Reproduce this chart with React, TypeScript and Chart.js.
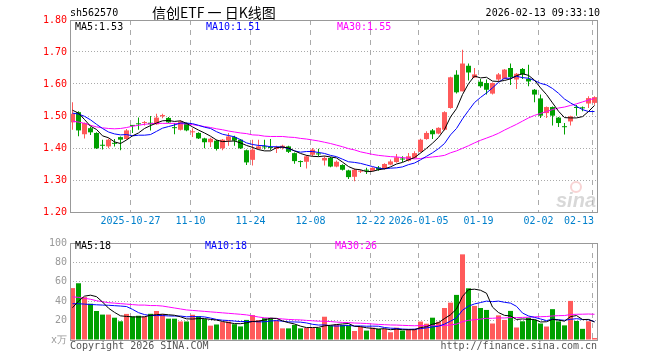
import React, { useEffect, useRef } from 'react';
import { Chart, registerables } from 'chart.js';

Chart.register(...registerables);

// ---------------- data ----------------
const tickIndex = [10, 20, 30, 40, 50, 58, 68, 78, 87];
const tickLabels = ['2025-10-27', '11-10', '11-24', '12-08', '12-22', '2026-01-05', '01-19', '02-02', '02-13'];

const openP = [1.480, 1.512, 1.443, 1.462, 1.447, 1.408, 1.405, 1.414, 1.434, 1.428,
  1.471, 1.475, 1.478, 1.479, 1.474, 1.499, 1.494, 1.463, 1.457, 1.478,
  1.449, 1.447, 1.430, 1.418, 1.423, 1.399, 1.423, 1.434, 1.426, 1.393,
  1.363, 1.397, 1.403, 1.401, 1.397, 1.401, 1.405, 1.384, 1.357, 1.357,
  1.379, 1.382, 1.361, 1.369, 1.342, 1.347, 1.330, 1.310, 1.326, 1.330,
  1.329, 1.339, 1.335, 1.348, 1.356, 1.366, 1.360, 1.369, 1.388, 1.428,
  1.455, 1.445, 1.457, 1.525, 1.629, 1.577, 1.657, 1.620, 1.607, 1.603,
  1.570, 1.614, 1.616, 1.650, 1.614, 1.647, 1.616, 1.582, 1.555, 1.509,
  1.528, 1.495, 1.466, 1.483, 1.526, 1.526, 1.539, 1.541];
const closeP = [1.507, 1.455, 1.478, 1.449, 1.399, 1.407, 1.426, 1.413, 1.426, 1.455,
  1.469, 1.474, 1.480, 1.474, 1.495, 1.503, 1.480, 1.462, 1.483, 1.455,
  1.451, 1.430, 1.418, 1.429, 1.397, 1.426, 1.436, 1.423, 1.399, 1.355,
  1.395, 1.405, 1.402, 1.400, 1.403, 1.407, 1.388, 1.359, 1.356, 1.374,
  1.395, 1.380, 1.369, 1.342, 1.357, 1.332, 1.309, 1.332, 1.328, 1.329,
  1.338, 1.332, 1.350, 1.358, 1.371, 1.364, 1.374, 1.384, 1.426, 1.447,
  1.443, 1.463, 1.512, 1.621, 1.574, 1.664, 1.636, 1.630, 1.593, 1.582,
  1.603, 1.630, 1.645, 1.622, 1.632, 1.630, 1.608, 1.567, 1.501, 1.528,
  1.501, 1.478, 1.465, 1.499, 1.525, 1.524, 1.556, 1.559];
const highP = [1.543, 1.515, 1.480, 1.466, 1.449, 1.426, 1.430, 1.428, 1.436, 1.459,
  1.472, 1.495, 1.484, 1.500, 1.507, 1.507, 1.497, 1.478, 1.486, 1.480,
  1.462, 1.449, 1.432, 1.432, 1.426, 1.428, 1.447, 1.438, 1.428, 1.395,
  1.426, 1.426, 1.426, 1.428, 1.407, 1.410, 1.407, 1.386, 1.361, 1.378,
  1.400, 1.398, 1.374, 1.372, 1.361, 1.349, 1.332, 1.336, 1.332, 1.338,
  1.340, 1.344, 1.352, 1.364, 1.381, 1.374, 1.384, 1.390, 1.429, 1.452,
  1.459, 1.465, 1.515, 1.623, 1.643, 1.707, 1.664, 1.650, 1.616, 1.614,
  1.605, 1.634, 1.647, 1.664, 1.634, 1.650, 1.660, 1.584, 1.567, 1.530,
  1.530, 1.497, 1.478, 1.501, 1.534, 1.530, 1.562, 1.562];
const lowP = [1.457, 1.437, 1.430, 1.441, 1.397, 1.395, 1.399, 1.405, 1.393, 1.426,
  1.447, 1.457, 1.470, 1.455, 1.473, 1.493, 1.478, 1.443, 1.455, 1.452,
  1.434, 1.428, 1.399, 1.403, 1.392, 1.393, 1.407, 1.407, 1.397, 1.347,
  1.345, 1.395, 1.395, 1.393, 1.384, 1.395, 1.384, 1.351, 1.341, 1.336,
  1.374, 1.374, 1.345, 1.340, 1.340, 1.330, 1.303, 1.296, 1.322, 1.319,
  1.327, 1.329, 1.333, 1.346, 1.354, 1.356, 1.358, 1.367, 1.386, 1.426,
  1.428, 1.443, 1.455, 1.523, 1.570, 1.577, 1.611, 1.619, 1.588, 1.567,
  1.567, 1.608, 1.614, 1.597, 1.584, 1.616, 1.593, 1.543, 1.494, 1.494,
  1.470, 1.466, 1.442, 1.470, 1.501, 1.515, 1.525, 1.535];

const ma5P = [1.518, 1.509, 1.489, 1.468, 1.458, 1.438, 1.432, 1.419, 1.414, 1.425,
  1.438, 1.447, 1.461, 1.470, 1.478, 1.485, 1.486, 1.483, 1.485, 1.477,
  1.466, 1.456, 1.447, 1.437, 1.425, 1.420, 1.421, 1.422, 1.416, 1.408,
  1.402, 1.395, 1.391, 1.391, 1.401, 1.403, 1.400, 1.391, 1.383, 1.377,
  1.374, 1.373, 1.375, 1.372, 1.369, 1.356, 1.342, 1.334, 1.332, 1.326,
  1.327, 1.332, 1.335, 1.341, 1.350, 1.355, 1.363, 1.370, 1.384, 1.399,
  1.415, 1.433, 1.458, 1.497, 1.523, 1.567, 1.601, 1.625, 1.619, 1.621,
  1.609, 1.608, 1.611, 1.616, 1.626, 1.632, 1.627, 1.612, 1.588, 1.567,
  1.541, 1.515, 1.495, 1.494, 1.494, 1.498, 1.514, 1.533];
const ma10P = [1.509, 1.506, 1.499, 1.488, 1.474, 1.461, 1.450, 1.444, 1.441, 1.442,
  1.438, 1.440, 1.440, 1.442, 1.452, 1.462, 1.467, 1.472, 1.478, 1.478,
  1.476, 1.471, 1.465, 1.461, 1.451, 1.443, 1.439, 1.435, 1.426, 1.416,
  1.411, 1.408, 1.407, 1.404, 1.404, 1.403, 1.398, 1.391, 1.387, 1.389,
  1.389, 1.386, 1.383, 1.377, 1.373, 1.365, 1.357, 1.355, 1.352, 1.347,
  1.342, 1.337, 1.335, 1.337, 1.338, 1.341, 1.348, 1.353, 1.363, 1.374,
  1.385, 1.398, 1.414, 1.441, 1.461, 1.491, 1.517, 1.542, 1.558, 1.572,
  1.588, 1.605, 1.618, 1.618, 1.624, 1.620, 1.618, 1.611, 1.602, 1.597,
  1.586, 1.571, 1.553, 1.541, 1.530, 1.520, 1.514, 1.514];
const ma30P = [1.484, 1.481, 1.477, 1.471, 1.466, 1.463, 1.461, 1.460, 1.461, 1.464,
  1.468, 1.471, 1.474, 1.476, 1.477, 1.477, 1.477, 1.477, 1.476, 1.475,
  1.473, 1.470, 1.467, 1.464, 1.460, 1.457, 1.453, 1.450, 1.447, 1.445,
  1.441, 1.440, 1.437, 1.436, 1.436, 1.436, 1.434, 1.433, 1.430, 1.428,
  1.425, 1.422, 1.418, 1.414, 1.409, 1.404, 1.398, 1.394, 1.388, 1.384,
  1.380, 1.377, 1.375, 1.373, 1.372, 1.370, 1.368, 1.366, 1.367, 1.370,
  1.372, 1.374, 1.377, 1.385, 1.391, 1.399, 1.407, 1.416, 1.424, 1.431,
  1.438, 1.446, 1.456, 1.465, 1.474, 1.484, 1.494, 1.502, 1.508, 1.514,
  1.520, 1.525, 1.528, 1.533, 1.538, 1.544, 1.550, 1.555];

const volume = [53.5, 58.5, 44.2, 37.4, 29.9, 26.2, 26.2, 23.0, 19.3, 26.9,
  24.2, 25.0, 24.2, 27.0, 29.9, 26.7, 22.0, 22.0, 19.1, 19.1,
  26.0, 24.5, 21.6, 14.8, 16.0, 18.5, 19.0, 16.3, 14.0, 20.7,
  25.7, 20.5, 22.5, 22.8, 20.0, 12.0, 12.0, 15.6, 12.0, 12.4,
  12.4, 12.4, 24.0, 14.6, 16.0, 15.5, 15.0, 9.3, 13.4, 9.7,
  12.7, 11.4, 11.4, 8.0, 12.7, 9.7, 11.4, 11.4, 19.0, 16.8,
  23.0, 18.8, 33.0, 38.5, 46.5, 88.3, 53.3, 35.2, 33.0, 31.0,
  17.0, 25.4, 20.7, 30.0, 12.9, 19.3, 23.0, 20.8, 17.0, 13.9,
  31.8, 19.2, 15.1, 40.3, 19.6, 11.5, 19.3, 2.0];
const ma5V = [33.3, 40.0, 45.2, 46.2, 44.7, 39.2, 32.8, 28.5, 24.9, 24.3,
  23.9, 23.7, 23.9, 25.5, 26.1, 26.6, 26.0, 25.5, 23.9, 21.8,
  21.6, 22.1, 22.1, 21.2, 20.6, 19.1, 18.0, 16.9, 16.8, 17.7,
  19.1, 19.4, 20.7, 22.4, 22.3, 19.6, 17.9, 16.5, 14.3, 12.8,
  12.9, 13.0, 14.6, 15.2, 15.9, 16.5, 17.0, 14.1, 13.8, 12.6,
  12.0, 11.3, 11.7, 10.6, 11.2, 10.6, 10.6, 10.6, 12.8, 13.7,
  16.3, 17.8, 22.1, 26.0, 32.0, 45.0, 51.9, 52.4, 51.3, 48.2,
  33.9, 28.3, 25.4, 24.8, 21.2, 21.7, 21.2, 21.2, 18.6, 18.8,
  21.3, 20.5, 19.4, 24.1, 25.2, 21.1, 21.2, 18.5];
const ma10V = [37.4, 37.4, 37.0, 36.6, 36.3, 36.0, 35.8, 35.4, 35.0, 34.5,
  31.6, 28.2, 26.2, 25.2, 25.2, 25.2, 24.8, 24.7, 24.7, 23.9,
  24.1, 24.1, 23.8, 22.6, 21.2, 20.4, 20.1, 19.5, 19.0, 19.1,
  19.1, 18.7, 18.8, 19.6, 20.0, 19.4, 18.7, 18.6, 18.4, 17.6,
  16.2, 15.4, 15.6, 14.7, 14.3, 14.7, 15.0, 14.4, 14.5, 14.2,
  14.3, 14.2, 12.9, 12.2, 11.9, 11.3, 11.0, 11.2, 11.7, 12.5,
  13.5, 14.2, 16.4, 19.4, 22.8, 30.7, 34.9, 37.2, 38.6, 40.1,
  39.5, 40.1, 38.9, 38.0, 34.7, 27.8, 24.8, 23.3, 21.7, 20.0,
  21.5, 20.9, 20.3, 21.3, 22.0, 21.2, 20.9, 19.0];
const ma30V = [44.5, 44.0, 43.0, 42.0, 40.5, 39.5, 38.5, 38.0, 37.5, 37.0,
  36.5, 36.0, 36.0, 35.5, 35.5, 35.0, 34.0, 33.0, 32.0, 31.0,
  30.5, 30.0, 29.5, 29.0, 28.5, 28.0, 27.5, 27.0, 26.5, 25.9,
  24.9, 23.7, 22.9, 22.5, 22.1, 21.7, 21.2, 20.9, 20.7, 20.2,
  19.8, 19.4, 19.4, 19.0, 18.5, 18.1, 17.9, 17.5, 17.3, 17.0,
  16.5, 16.1, 15.8, 15.5, 15.4, 15.1, 14.9, 14.7, 14.9, 14.7,
  14.7, 14.6, 15.0, 15.5, 16.4, 18.9, 20.3, 20.9, 21.6, 22.3,
  22.4, 22.8, 22.7, 23.2, 23.1, 23.3, 23.5, 23.9, 24.0, 24.2,
  24.8, 25.1, 25.2, 26.3, 26.5, 26.6, 26.8, 26.5];

const priceLegend = ['MA5:1.53', 'MA10:1.51', 'MA30:1.55'];
const volLegend = ['MA5:18', 'MA10:18', 'MA30:26'];
const priceTicks = { min: 1.2, max: 1.8, step: 0.1 };
const volTicks = { min: 0, max: 100, step: 20 };

// ---------------- styles ----------------
const MONO = '"DejaVu Sans Mono", "Liberation Mono", monospace';
const CJK = '"Noto Sans CJK SC", sans-serif';
const RED = '#ff5a5a';
const GREEN = '#00a000';
const GRID = '#aaaaaa';
const BORDER = '#999999';
const XLBL = '#0080cc';
const LEGEND_COLORS = ['#000000', '#0000ff', '#ff00ff'];
const X_MIN = -2.5 / 6;
const X_MAX = 88 - 2.5 / 6;

const candleColors = openP.map((o, i) => (closeP[i] >= o ? RED : GREEN));

function text(ctx: CanvasRenderingContext2D, s: string, x: number, y: number, color: string, font: string, align: CanvasTextAlign = 'left') {
  ctx.fillStyle = color;
  ctx.font = font;
  ctx.textAlign = align;
  ctx.textBaseline = 'middle';
  ctx.fillText(s, x, y);
}

function drawBorder(chart: any) {
  const { ctx, chartArea: a } = chart;
  ctx.save();
  ctx.strokeStyle = BORDER;
  ctx.lineWidth = 1;
  ctx.setLineDash([]);
  ctx.strokeRect(a.left + 0.5, a.top + 0.5, a.right - a.left - 1, a.bottom - a.top);
  ctx.restore();
}

const xScaleOptions = (h: number) => ({
  type: 'linear' as const,
  min: X_MIN,
  max: X_MAX,
  offset: false,
  afterBuildTicks: (s: any) => {
    s.ticks = tickIndex.map((i) => ({ value: i - 1 / 3 }));
  },
  afterFit: (s: any) => {
    s.height = h;
  },
  ticks: { display: false },
  grid: { color: GRID, lineWidth: 1, drawTicks: false, offset: false },
  border: { display: false, dash: [5, 5] },
});

const overlayA = {
  id: 'overlayA',
  beforeDatasetsDraw(chart: any) {
    const { ctx, chartArea: a } = chart;
    ctx.save();
    ctx.strokeStyle = 'rgba(240,160,160,0.45)';
    ctx.lineWidth = 2;
    ctx.beginPath();
    ctx.arc(a.right - 22, a.bottom - 25, 5, 0, Math.PI * 2);
    ctx.stroke();
    text(ctx, 'sina', a.right - 2, a.bottom - 11, 'rgba(190,190,190,0.6)', 'italic bold 20px "Liberation Sans", Arial, sans-serif', 'right');
    ctx.restore();
  },
  afterDatasetsDraw(chart: any) {
    const { ctx, chartArea: a, scales } = chart;
    drawBorder(chart);
    ctx.save();
    const f = '10px ' + MONO;
    text(ctx, 'sh562570', 70, 13, '#000', f);
    text(ctx, '信创ETF 一 日K线图', 152, 13, '#000', '14px ' + CJK);
    text(ctx, '2026-02-13 09:33:10', 600, 13, '#000', f, 'right');
    const lx = [75, 206, 337];
    priceLegend.forEach((s, i) => text(ctx, s, lx[i], 27, LEGEND_COLORS[i], f));
    ctx.font = f;
    tickIndex.forEach((idx, k) => {
      const px = scales.x.getPixelForValue(idx - 1 / 3);
      const w = ctx.measureText(tickLabels[k]).width;
      let left = px - w / 2;
      if (left + w > a.right - 4) left = a.right - 4 - w;
      text(ctx, tickLabels[k], left, 221.5, XLBL, f, 'left');
    });
    ctx.restore();
  },
};

const overlayB = {
  id: 'overlayB',
  afterDatasetsDraw(chart: any) {
    const { ctx, chartArea: a } = chart;
    drawBorder(chart);
    ctx.save();
    const f = '10px ' + MONO;
    const lx = [75, 205, 335];
    volLegend.forEach((s, i) => text(ctx, s, lx[i], 11.5, LEGEND_COLORS[i], f));
    text(ctx, 'Copyright 2026 SINA.COM', 70, 111.5, '#555', f);
    text(ctx, 'http://finance.sina.com.cn', a.right - 1, 111.5, '#555', f, 'right');
    ctx.restore();
  },
};

const lineDs = (data: number[], color: string, order: number) => ({
  type: 'line' as const,
  data: data.map((y, x) => ({ x, y })),
  borderColor: color,
  borderWidth: 1,
  pointRadius: 0,
  tension: 0,
  fill: false,
  order,
});

export default function App() {
  const refA = useRef<HTMLCanvasElement>(null);
  const refB = useRef<HTMLCanvasElement>(null);

  useEffect(() => {
    const common = {
      responsive: false,
      animation: false as const,
      events: [] as any[],
      plugins: { legend: { display: false }, tooltip: { enabled: false } },
    };

    const chartA = new Chart(refA.current as HTMLCanvasElement, {
      type: 'bar',
      data: {
        datasets: [
          {
            type: 'bar',
            data: openP.map((_, i) => ({ x: i, y: [lowP[i], highP[i]] })) as any,
            backgroundColor: candleColors,
            barThickness: 1,
            grouped: false,
            borderWidth: 0,
            inflateAmount: 0,
            order: 5,
          } as any,
          {
            type: 'bar',
            data: openP.map((o, i) => ({ x: i, y: [o, closeP[i]] })) as any,
            backgroundColor: candleColors,
            barThickness: 5,
            minBarLength: 1,
            grouped: false,
            borderWidth: 0,
            inflateAmount: 0,
            order: 4,
          } as any,
          lineDs(ma30P, '#ff00ff', 3) as any,
          lineDs(ma10P, '#0000ff', 2) as any,
          lineDs(ma5P, '#000000', 1) as any,
        ],
      },
      options: {
        ...common,
        layout: { padding: { left: 0, right: 62, top: 20, bottom: 0 } },
        scales: {
          x: xScaleOptions(23) as any,
          y: {
            position: 'left',
            min: priceTicks.min,
            max: priceTicks.max,
            afterFit: (s: any) => {
              s.width = 70;
            },
            ticks: {
              stepSize: priceTicks.step,
              color: '#ff0000',
              font: { family: MONO, size: 10, lineHeight: 1 },
              padding: 3,
              callback: (v: any) => Number(v).toFixed(2),
            },
            grid: { color: GRID, drawTicks: false },
            border: { display: false, dash: [1, 2] },
          } as any,
        },
      },
      plugins: [overlayA],
    } as any);

    const chartB = new Chart(refB.current as HTMLCanvasElement, {
      type: 'bar',
      data: {
        datasets: [
          {
            type: 'bar',
            data: volume.map((y, x) => ({ x, y })),
            backgroundColor: candleColors,
            barThickness: 5,
            grouped: false,
            borderWidth: 0,
            inflateAmount: 0,
            order: 4,
          } as any,
          lineDs(ma30V, '#ff00ff', 3) as any,
          lineDs(ma10V, '#0000ff', 2) as any,
          lineDs(ma5V, '#000000', 1) as any,
        ],
      },
      options: {
        ...common,
        layout: { padding: { left: 0, right: 62, top: 6, bottom: 0 } },
        scales: {
          x: xScaleOptions(20) as any,
          y: {
            position: 'left',
            min: volTicks.min,
            max: volTicks.max,
            afterFit: (s: any) => {
              s.width = 70;
            },
            ticks: {
              stepSize: volTicks.step,
              color: '#999999',
              font: { family: MONO, size: 10, lineHeight: 1 },
              padding: 3,
              callback: (v: any) => (Number(v) === 0 ? 'x万' : String(v)),
            },
            grid: { color: GRID, drawTicks: false },
            border: { display: false, dash: [1, 2] },
          } as any,
        },
      },
      plugins: [overlayB],
    } as any);

    return () => {
      chartA.destroy();
      chartB.destroy();
    };
  }, []);

  return (
    <div style={{ position: 'absolute', left: 0, top: 0, width: 660, height: 360, background: '#fff' }}>
      <canvas ref={refA} width={660} height={235} style={{ position: 'absolute', left: 0, top: 0, display: 'block' }} />
      <canvas ref={refB} width={660} height={125} style={{ position: 'absolute', left: 0, top: 235, display: 'block' }} />
    </div>
  );
}
